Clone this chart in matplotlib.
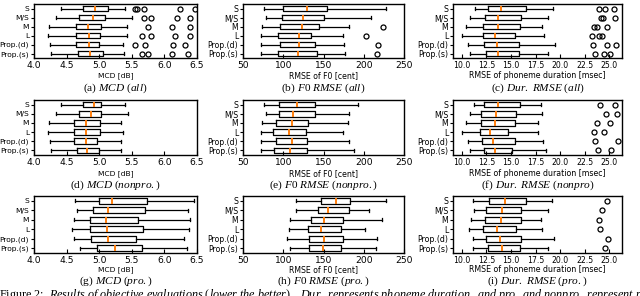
import numpy as np
import matplotlib.pyplot as plt

plt.rcParams['mathtext.fontset'] = 'custom'
plt.rcParams['mathtext.rm'] = 'Liberation Serif'
plt.rcParams['mathtext.it'] = 'Liberation Serif:italic'

systems = ['S', 'M/S', 'M', 'L', 'Prop.(d)', 'Prop.(s)']

# per system: whisker low, q1, median, q3, whisker high
mcd_all = [[4.41, 4.75, 4.94, 5.14, 5.39],
           [4.34, 4.69, 4.90, 5.09, 5.50],
           [4.23, 4.65, 4.83, 5.03, 5.43],
           [4.22, 4.65, 4.84, 5.01, 5.43],
           [4.25, 4.65, 4.84, 5.00, 5.37],
           [4.26, 4.68, 4.86, 5.06, 5.38]]
mcd_all_fliers = [[5.55, 5.58, 5.68, 6.24, 6.47],
                  [5.69, 5.79, 6.19, 6.39],
                  [5.75, 6.11, 6.40],
                  [5.65, 5.79, 6.16, 6.40],
                  [5.55, 5.70, 6.13, 6.31],
                  [5.65, 5.75, 6.11, 6.36]]

f0_all = [[76, 100, 129, 154, 228],
          [78, 99, 125, 150, 209],
          [74, 96, 123, 145, 182],
          [72, 94, 119, 134, 174],
          [72, 96, 119, 140, 175],
          [72, 94, 118, 142, 177]]
f0_all_fliers = [[], [], [224], [203], [218], [216]]

dur_all = [[11.3, 12.65, 14.0, 16.5, 19.3],
           [10.8, 12.4, 13.7, 16.05, 18.8],
           [10.45, 12.2, 13.67, 15.95, 18.2],
           [10.0, 12.2, 13.33, 15.37, 18.4],
           [10.6, 12.3, 13.57, 15.8, 19.45],
           [10.8, 12.5, 13.67, 15.8, 18.8]]
dur_all_fliers = [[24.0, 24.6, 25.5],
                  [24.2, 24.4, 25.6],
                  [23.5, 23.8, 24.8],
                  [23.2, 24.0, 24.3],
                  [23.3, 24.8, 25.7],
                  [23.6, 24.5, 25.1]]

mcd_nonpro = [[4.41, 4.75, 4.92, 5.03, 5.39],
              [4.34, 4.69, 4.88, 5.03, 5.44],
              [4.23, 4.62, 4.79, 5.01, 5.34],
              [4.22, 4.62, 4.79, 5.01, 5.37],
              [4.25, 4.62, 4.79, 4.97, 5.34],
              [4.26, 4.66, 4.81, 5.00, 5.34]]

f0_nonpro = [[76, 95, 117, 140, 193],
             [78, 95, 112, 140, 182],
             [74, 91, 111, 131, 181],
             [72, 87, 107, 128, 174],
             [72, 91, 111, 130, 182],
             [72, 88, 108, 130, 188]]

dur_nonpro = [[11.2, 12.25, 13.67, 15.9, 18.1],
              [10.8, 11.9, 13.5, 15.5, 18.2],
              [10.45, 12.0, 13.4, 15.37, 17.7],
              [10.03, 11.8, 12.9, 14.7, 17.7],
              [10.6, 12.1, 13.2, 15.4, 18.3],
              [10.8, 12.25, 13.4, 15.1, 18.6]]
dur_nonpro_fliers = [[24.05, 25.6],
                     [24.7, 25.8],
                     [23.8, 25.05],
                     [23.5, 24.5],
                     [23.6, 25.9],
                     [23.9, 25.2]]

mcd_pro = [[4.63, 4.99, 5.20, 5.73, 6.46],
           [4.66, 4.91, 5.14, 5.70, 6.36],
           [4.61, 4.86, 5.11, 5.60, 6.39],
           [4.58, 4.86, 5.12, 5.67, 6.38],
           [4.61, 4.88, 5.14, 5.57, 6.30],
           [4.70, 4.96, 5.24, 5.66, 6.34]]

f0_pro = [[116, 147, 166, 183, 228],
          [116, 143, 156, 182, 207],
          [109, 135, 150, 174, 223],
          [107, 131, 147, 172, 201],
          [105, 132, 151, 174, 216],
          [108, 132, 149, 172, 215]]

dur_pro = [[11.1, 12.75, 14.35, 16.5, 19.2],
           [11.2, 12.5, 14.1, 16.05, 18.8],
           [10.9, 12.4, 14.0, 16.05, 18.1],
           [10.7, 12.15, 13.6, 15.5, 18.2],
           [11.1, 12.5, 13.85, 16.05, 19.35],
           [11.1, 12.65, 14.1, 15.95, 18.8]]
dur_pro_fliers = [[24.8], [24.3], [24.0], [24.1], [24.9], [24.6]]

no_fliers = [[], [], [], [], [], []]

mcd_ticks = [4.0, 4.5, 5.0, 5.5, 6.0, 6.5]
f0_ticks = [50, 100, 150, 200, 250]
dur_ticks = [10.0, 12.5, 15.0, 17.5, 20.0, 22.5, 25.0]

W, H = 640, 296
fig = plt.figure(figsize=(W / 100, H / 100), dpi=100)

cols = [(34, 197), (243, 404), (453, 622)]
rows = [(4, 58), (100, 155), (196, 253)]
xlabel_y = [76, 174, 270]
caption_y = [88, 185, 281]
xtick_size = [6.6, 6.6, 5.6]
label_size = [5.4, 5.6, 5.7]


def draw(col, row, stats, fliers, xlim, xticks, xlabel, tag, title):
    l, r = cols[col]
    t, b = rows[row]
    ax = fig.add_axes([l / W, 1 - b / H, (r - l) / W, (b - t) / H])
    bstats = []
    for s, f, name in zip(stats, fliers, systems):
        bstats.append(dict(whislo=s[0], q1=s[1], med=s[2], q3=s[3],
                           whishi=s[4], fliers=f, label=name))
    ax.bxp(bstats, positions=range(1, 7), orientation='horizontal',
           widths=0.62,
           boxprops=dict(color='black', lw=0.9),
           whiskerprops=dict(color='black', lw=0.9),
           capprops=dict(color='black', lw=0.9),
           medianprops=dict(color='#ff7f0e', lw=1.4),
           flierprops=dict(marker='o', markerfacecolor='none',
                           markeredgecolor='black', markersize=3.6,
                           markeredgewidth=0.9))
    ax.set_ylim(6.5, 0.5)
    ax.set_xlim(*xlim)
    ax.set_xticks(xticks)
    ax.set_xticklabels(['%g' % v if isinstance(v, int) else '%.1f' % v
                        for v in xticks])
    ax.tick_params(axis='x', direction='in', length=3,
                   labelsize=xtick_size[col], pad=2)
    ax.tick_params(axis='y', length=2.5, labelsize=label_size[col], pad=1)
    for sp in ax.spines.values():
        sp.set_linewidth(1.0)
    xc = (l + r) / 2 / W
    fig.text(xc, 1 - xlabel_y[row] / H, xlabel, ha='center', va='center',
             fontsize=label_size[col])
    cap = tag + ' $\\mathit{' + title.replace(' ', '\\ ') + '}$'
    fig.text(xc, 1 - caption_y[row] / H, cap, ha='center', va='center',
             fontsize=8.2, family='Liberation Serif')


mcd_lim = (4.0, 6.5)
f0_lim = (50, 250)
dur_lim = (9.1, 26.3)

draw(0, 0, mcd_all, mcd_all_fliers, mcd_lim, mcd_ticks, 'MCD [dB]', '(a)', 'MCD (all)')
draw(1, 0, f0_all, f0_all_fliers, f0_lim, f0_ticks, 'RMSE of F0 [cent]', '(b)', 'F0 RMSE (all)')
draw(2, 0, dur_all, dur_all_fliers, dur_lim, dur_ticks,
     'RMSE of phoneme duration [msec]', '(c)', 'Dur. RMSE (all)')
draw(0, 1, mcd_nonpro, no_fliers, mcd_lim, mcd_ticks, 'MCD [dB]', '(d)', 'MCD (nonpro.)')
draw(1, 1, f0_nonpro, no_fliers, f0_lim, f0_ticks, 'RMSE of F0 [cent]', '(e)', 'F0 RMSE (nonpro.)')
draw(2, 1, dur_nonpro, dur_nonpro_fliers, dur_lim, dur_ticks,
     'RMSE of phoneme duration [msec]', '(f)', 'Dur. RMSE (nonpro)')
draw(0, 2, mcd_pro, no_fliers, mcd_lim, mcd_ticks, 'MCD [dB]', '(g)', 'MCD (pro.)')
draw(1, 2, f0_pro, no_fliers, f0_lim, f0_ticks, 'RMSE of F0 [cent]', '(h)', 'F0 RMSE (pro.)')
draw(2, 2, dur_pro, dur_pro_fliers, dur_lim, dur_ticks,
     'RMSE of phoneme duration [msec]', '(i)', 'Dur. RMSE (pro.)')

body = ('Results of objective evaluations (lower the better).  Dur. represents '
        'phoneme duration, and pro. and nonpro. represent prosodic and non-prosodic')
fig.text(-0.002, 1 - 287 / H,
         'Figure 2:  $\\mathit{' + body.replace(' ', '\\ ') + '}$',
         ha='left', va='top', fontsize=8.7, family='Liberation Serif')

fig.savefig('out.png', dpi=100)
